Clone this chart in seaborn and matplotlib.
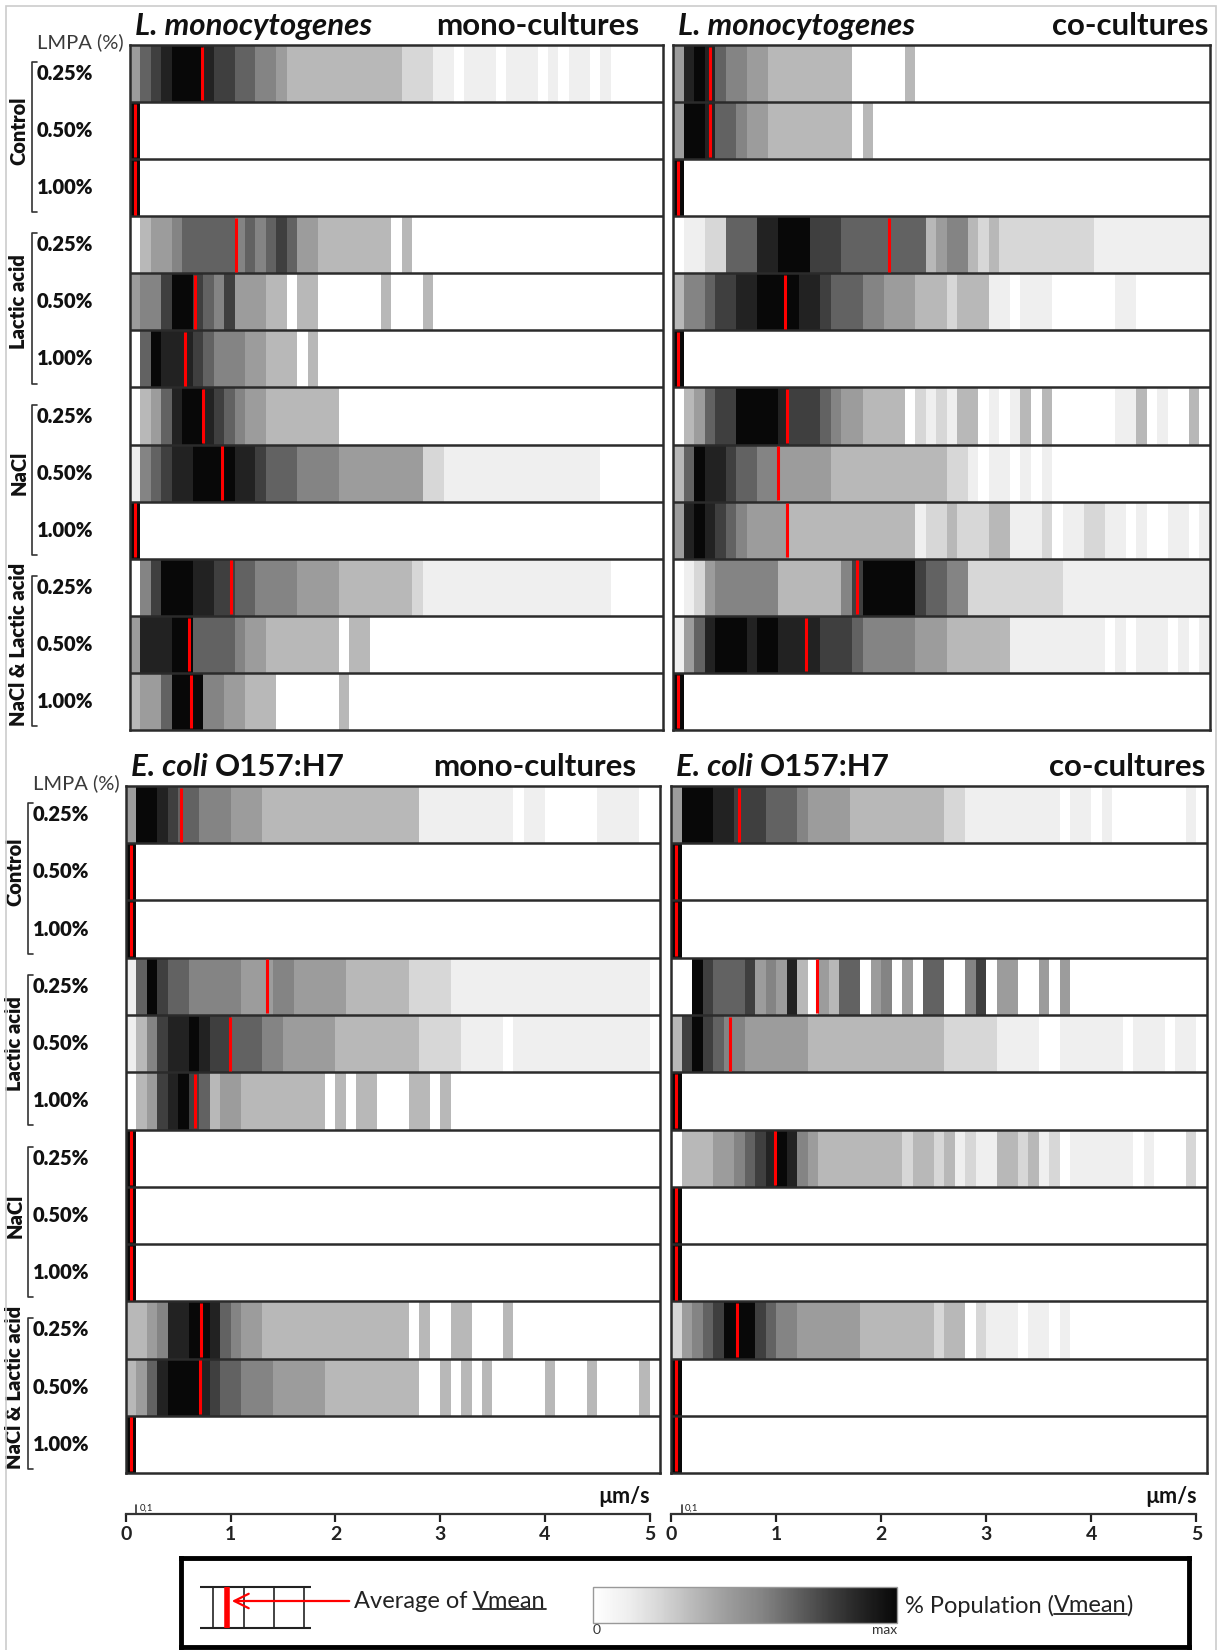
import numpy as np
import pandas as pd
import matplotlib
matplotlib.use("Agg")
import matplotlib.pyplot as plt
import seaborn as sns
from matplotlib.colors import LinearSegmentedColormap
from matplotlib.lines import Line2D
from matplotlib.patches import Rectangle
from matplotlib.transforms import blended_transform_factory

# ========================================
# DATA
# one string per strip, one digit per 0.1 um/s bin (0 = empty, 9 = max % population)
# ========================================
CONCENTRATIONS = ["0.25%", "0.50%", "1.00%"]
TREATMENTS = ["Control", "Lactic acid", "NaCl", "NaCl & Lactic acid"]
N_BINS = 51
BIN_WIDTH = 0.1
AXIS_TICKS = [0, 1, 2, 3, 4, 5]

LM_MONO = [
    "4678999877" "6655433333" "3333332221" "1011101110" "10110100000",
    "9",
    "9",
    "0344566666" "5656764433" "3333303",
    "4557997657" "4443303300" "000030003",
    "0698887655" "54433303",
    "0346899876" "5443333333",
    "1567889999" "8876665555" "4444444422" "1111111111" "11111000000",
    "9",
    "0579998877" "6655554444" "3333333211" "1111111111" "11111100000",
    "4888996666" "5443333333" "033",
    "3446999554" "4333000000" "3",
]
LM_MONO_VMEAN = [0.69, 0.05, 0.05, 1.01, 0.62, 0.53, 0.70, 0.88, 0.05, 0.97, 0.56, 0.58]

LM_CO = [
    "4898655443" "3333333000" "003",
    "4998665443" "333333303",
    "9",
    "0112266688" "9997776666" "6666345532" "3222222222" "11111111111",
    "3556778899" "9988766655" "4443332333" "1101110000" "0011",
    "9",
    "0346779999" "8777654433" "3302121330" "1013030000" "00113010030",
    "3698876655" "4444433333" "3333332210" "110101",
    "4898765444" "4333333333" "3331223222" "3311120112" "21101001101",
    "0124555555" "3333335799" "9997665522" "2222222111" "11111111111",
    "1468999899" "8888777655" "5554443333" "3311111111" "10101110101",
    "9",
]
LM_CO_VMEAN = [0.35, 0.35, 0.05, 2.05, 1.06, 0.05, 1.08, 1.00, 1.08, 1.75, 1.26, 0.05]

EC_MONO = [
    "4998766555" "4443333333" "3333333311" "1111111011" "00000111100",
    "9",
    "9",
    "1697665555" "5444554444" "4333333222" "2111111111" "11111111110",
    "1357889877" "6665544444" "3333333322" "2211110111" "11111111110",
    "0347897634" "4333333330" "30330003303",
    "9",
    "9",
    "9",
    "3345889986" "5443333333" "3333333030" "0330003",
    "3468999876" "6555444443" "3333333300" "3030300000" "30003000030",
    "9",
]
EC_MONO_VMEAN = [0.53, 0.05, 0.05, 1.35, 0.99, 0.66, 0.05, 0.05, 0.05, 0.72, 0.71, 0.05]

EC_CO = [
    "4999887776" "6654444333" "3333332211" "1111111011" "01000000010",
    "9",
    "9",
    "0097666745" "4830436604" "5040660057" "04400404",
    "3797655444" "4443333333" "3333332222" "2111100111" "11101110110",
    "9",
    "0333445678" "9854333333" "3323323121" "1332312011" "11110100020",
    "9",
    "9",
    "2456799976" "5544444433" "3333323302" "11101101",
    "9",
    "9",
]
EC_CO_VMEAN = [0.65, 0.05, 0.05, 1.39, 0.56, 0.05, 0.99, 0.05, 0.05, 0.63, 0.05, 0.05]

# ========================================
# STYLE
# ========================================
sns.set_theme(style="white")
plt.rcParams["font.family"] = ["Lato", "DejaVu Sans"]

VMEAN_CMAP = LinearSegmentedColormap.from_list(
    "vmean", ["#ffffff", "#efefef", "#d6d6d6", "#b8b8b8", "#9c9c9c",
              "#848484", "#626262", "#404040", "#222222", "#080808"])
LINE = "#2b2b2b"
TXT = "#111111"

W, H = 1221, 1650
fig = plt.figure(figsize=(W / 100, H / 100), dpi=100)


def box(x0, y0, x1, y1):
    # pixel box (top-left origin) -> figure rect
    return [x0 / W, 1 - y1 / H, (x1 - x0) / W, (y1 - y0) / H]


def to_frame(rows):
    grid = [[int(c) for c in r.ljust(N_BINS, "0")] for r in rows]
    index = [f"{t} {c}" for t in TREATMENTS for c in CONCENTRATIONS]
    cols = np.round(np.arange(N_BINS) * BIN_WIDTH, 1)
    return pd.DataFrame(grid, index=index, columns=cols)


panels = [
    dict(rows=LM_MONO, vmean=LM_MONO_VMEAN, species="L. monocytogenes", strain="",
         culture="mono-cultures", pos=(130, 45, 663, 730), left=True, axis=False, c_off=-24),
    dict(rows=LM_CO, vmean=LM_CO_VMEAN, species="L. monocytogenes", strain="",
         culture="co-cultures", pos=(673, 45, 1210, 730), left=False, axis=False, c_off=-2),
    dict(rows=EC_MONO, vmean=EC_MONO_VMEAN, species="E. coli", strain="O157:H7",
         culture="mono-cultures", pos=(126, 786, 660, 1473), left=True, axis=True, c_off=-24),
    dict(rows=EC_CO, vmean=EC_CO_VMEAN, species="E. coli", strain="O157:H7",
         culture="co-cultures", pos=(671, 786, 1207, 1473), left=False, axis=True, c_off=-2),
]

# legend colour bar axis (filled by the first heatmap)
cax = fig.add_axes(box(593, 1587, 897, 1623))

for k, p in enumerate(panels):
    x0, y0, x1, y1 = p["pos"]
    ax = fig.add_axes(box(x0, y0, x1, y1))
    df = to_frame(p["rows"])
    sns.heatmap(df, ax=ax, cmap=VMEAN_CMAP, vmin=0, vmax=9,
                cbar=(k == 0), cbar_ax=cax if k == 0 else None,
                cbar_kws={"orientation": "horizontal"},
                xticklabels=False, yticklabels=False)
    ax.set_xlim(0, N_BINS)
    ax.set_ylim(len(df), 0)
    ax.hlines(np.arange(1, len(df)), 0, N_BINS, color=LINE, lw=1.8)
    vx = [v / BIN_WIDTH for v in p["vmean"]]
    ax.vlines(vx, np.arange(len(df)) + 0.03, np.arange(len(df)) + 0.97, color="red", lw=2.2)
    for sp in ax.spines.values():
        sp.set_visible(True)
        sp.set_linewidth(1.8)
        sp.set_edgecolor(LINE)
    ax.set_xlabel("")
    ax.set_ylabel("")

    # titles
    ty = 1 - (y0 - 19) / H
    t = fig.text((x0 + 5) / W, ty, p["species"], style="italic", fontweight="bold",
                 fontsize=22.5, ha="left", va="center", color=TXT)
    if p["strain"]:
        ax.annotate(p["strain"], xy=(1, 0.5), xycoords=t, xytext=(5, 0),
                    textcoords="offset points", ha="left", va="center",
                    fontsize=22.5, fontweight="bold", color=TXT, annotation_clip=False)
    fig.text((x1 + p["c_off"]) / W, ty, p["culture"], fontweight="bold", fontsize=22.5,
             ha="right", va="center", color=TXT)

    # row / group labels
    if p["left"]:
        tr = blended_transform_factory(fig.transFigure, ax.transData)
        fig.text((x0 - 6) / W, 1 - (y0 - 3) / H, "LMPA (%)", ha="right", va="center",
                 fontsize=14.5, color="#3a3a3a")
        for i, lab in enumerate(df.index):
            ax.text((x0 - 93) / W, i + 0.5, CONCENTRATIONS[i % 3], transform=tr,
                    ha="left", va="center", fontsize=14.5, fontweight="heavy", color=TXT)
        xb, xe = (x0 - 98) / W, (x0 - 93) / W
        for g, name in enumerate(TREATMENTS):
            ya, yb = 3 * g + 0.3, 3 * g + 2.93
            ax.plot([xe, xb, xb, xe], [ya, ya, yb, yb], transform=tr, color="#333",
                    lw=1.2, clip_on=False)
            ax.text((x0 - 111) / W, 3 * g + 1.5, name, transform=tr, rotation=90,
                    ha="center", va="center", fontsize=14.5, fontweight="heavy", color=TXT)

    # speed axis under the bottom panels
    if p["axis"]:
        bx = fig.add_axes(box(x0, 1492, x1, 1514))
        bx.set_xlim(0, N_BINS * BIN_WIDTH)
        bx.set_ylim(0, 1)
        bx.patch.set_alpha(0)
        for s in ["top", "left", "right"]:
            bx.spines[s].set_visible(False)
        bx.spines["bottom"].set_bounds(0, 5)
        bx.spines["bottom"].set_linewidth(1.6)
        bx.spines["bottom"].set_color("#333")
        bx.set_xticks(AXIS_TICKS)
        bx.set_xticklabels([str(v) for v in AXIS_TICKS], fontweight="bold", fontsize=14)
        bx.set_yticks([])
        bx.tick_params(axis="x", bottom=True, direction="out", length=6, width=1.6,
                       pad=3, colors="#222")
        bx.plot([BIN_WIDTH, BIN_WIDTH], [0, 0.4], color="#333", lw=1.2, clip_on=False)
        bx.text(BIN_WIDTH + 0.03, 0.05, "0,1", fontsize=7, ha="left", va="bottom", color="#222")
        bx.text(5, 0.3, "µm/s", fontsize=15.5, fontweight="bold", ha="right", va="bottom",
                color=TXT)

# ========================================
# LEGEND BOX
# ========================================
cbar = fig.axes[1].collections[0].colorbar
cbar.set_ticks([0, 9])
cbar.set_ticklabels(["0", "max"])
cbar.ax.tick_params(length=0, labelsize=10, pad=1, colors="#333")
cbar.outline.set_edgecolor("#999")
cbar.outline.set_linewidth(1)
tl = cbar.ax.get_xticklabels()
tl[0].set_horizontalalignment("left")
tl[1].set_horizontalalignment("right")

lg = fig.add_axes(box(181, 1558, 1189, 1647))
lg.set_xlim(181, 1189)
lg.set_ylim(1647, 1558)
lg.set_xticks([])
lg.set_yticks([])
lg.patch.set_alpha(0)
for s in lg.spines.values():
    s.set_visible(True)
    s.set_linewidth(3.5)
    s.set_edgecolor("black")
lg.set_zorder(-1)

lg.hlines([1587, 1628], 200, 311, color="#222", lw=1.5)
lg.vlines([213, 244, 274, 304], 1587, 1628, color="#222", lw=1.2)
lg.vlines([227], 1587, 1628, color="red", lw=4)
lg.annotate("", xy=(229, 1601), xytext=(352, 1601),
            arrowprops=dict(arrowstyle="->", color="red", lw=1.6, mutation_scale=26))
t_avg = lg.text(354, 1601, "Average of", ha="left", va="center", fontsize=17, color="#222")
t_vm1 = lg.annotate("Vmean", xy=(1, 0.5), xycoords=t_avg, xytext=(4, 0),
                    textcoords="offset points", ha="left", va="center", fontsize=17,
                    color="#222")
t_pop = lg.text(905, 1606, "% Population (", ha="left", va="center", fontsize=17, color="#222")
t_vm2 = lg.annotate("Vmean", xy=(1, 0.5), xycoords=t_pop, xytext=(0, 0),
                    textcoords="offset points", ha="left", va="center", fontsize=17,
                    color="#222")
lg.annotate(")", xy=(1, 0.5), xycoords=t_vm2, xytext=(0, 0), textcoords="offset points",
            ha="left", va="center", fontsize=17, color="#222")

# underline the two "Vmean" words
fig.canvas.draw()
for t in (t_vm1, t_vm2):
    bb = t.get_window_extent()
    yl = (bb.y0 + 3) / H
    fig.add_artist(Line2D([bb.x0 / W, bb.x1 / W], [yl, yl], color="#222", lw=1.3))

# light frame round the figure
fig.add_artist(Rectangle((6 / W, -0.01), (1216 - 6) / W, 1.01 - 6 / H,
                         transform=fig.transFigure, fill=False, edgecolor="#cccccc", lw=1.2))

fig.savefig("out.png", dpi=100)
plt.close(fig)
